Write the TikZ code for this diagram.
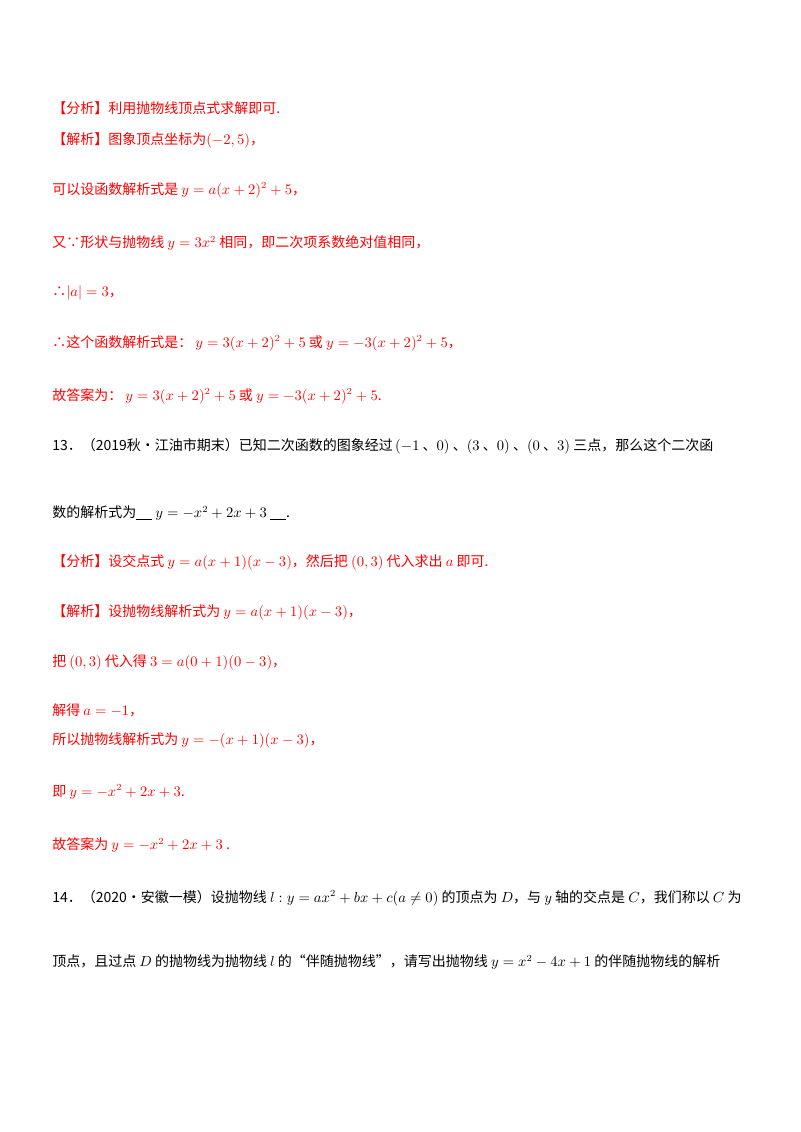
\documentclass[tikz,border=0pt]{standalone}
\usepackage{fontspec}
\setmainfont{Noto Sans CJK SC}
\definecolor{ared}{RGB}{255,0,0}
\begin{document}
\begin{tikzpicture}[x=0.75pt,y=-0.75pt,
  ln/.style={anchor=west,inner sep=0pt,font=\fontsize{10.5pt}{12pt}\selectfont},
  rl/.style={ln,text=ared},
  bl/.style={ln,text=black}]
\useasboundingbox[fill=white] (0,0) rectangle (800,1132);
\node[rl] (l1) at (52,108) {【分析】利用抛物线顶点式求解即可.};
\node[rl] (l2) at (52,140) {【解析】图象顶点坐标为$(-2,5)$，};
\node[rl] (l3) at (52,190) {可以设函数解析式是 $y=a(x+2)^2+5$，};
\node[rl] (l4) at (52,243) {又∵形状与抛物线 $y=3x^2$ 相同，即二次项系数绝对值相同，};
\node[rl] (l5) at (52,293) {∴$|a|=3$，};
\node[rl] (l6) at (52,343) {∴这个函数解析式是： $y=3(x+2)^2+5$ 或 $y=-3(x+2)^2+5$，};
\node[rl] (l7) at (52,396) {故答案为： $y=3(x+2)^2+5$ 或 $y=-3(x+2)^2+5$.};
\node[bl] (q13) at (52,446) {13．（2019秋•江油市期末）已知二次函数的图象经过\,$(-1$ 、$0)$ 、$(3$ 、$0)$ 、$(0$ 、$3)$ 三点，那么这个二次函};
\node[bl] (q13b) at (52,513) {数的解析式为\underline{\hspace{12pt}}\ $y=-x^2+2x+3$\ \underline{\hspace{12pt}}.};
\node[rl] (m1) at (52,562) {【分析】设交点式 $y=a(x+1)(x-3)$，然后把 $(0,3)$ 代入求出 $a$ 即可.};
\node[rl] (m2) at (52,612) {【解析】设抛物线解析式为 $y=a(x+1)(x-3)$，};
\node[rl] (m3) at (52,662) {把 $(0,3)$ 代入得 $3=a(0+1)(0-3)$，};
\node[rl] (m4) at (52,710) {解得 $a=-1$，};
\node[rl] (m5) at (52,740) {所以抛物线解析式为 $y=-(x+1)(x-3)$，};
\node[rl] (m6) at (52,792) {即 $y=-x^2+2x+3$.};
\node[rl] (m7) at (52,845) {故答案为 $y=-x^2+2x+3$ .};
\node[bl] (q14) at (52,898) {14．（2020•安徽一模）设抛物线 $l:y=ax^2+bx+c(a\neq0)$ 的顶点为 $D$，与 $y$ 轴的交点是 $C$，我们称以 $C$ 为};
\node[bl] (q14b) at (52,962) {顶点，且过点 $D$ 的抛物线为抛物线 $l$ 的“伴随抛物线”，请写出抛物线 $y=x^2-4x+1$ 的伴随抛物线的解析};
\end{tikzpicture}
\end{document}
